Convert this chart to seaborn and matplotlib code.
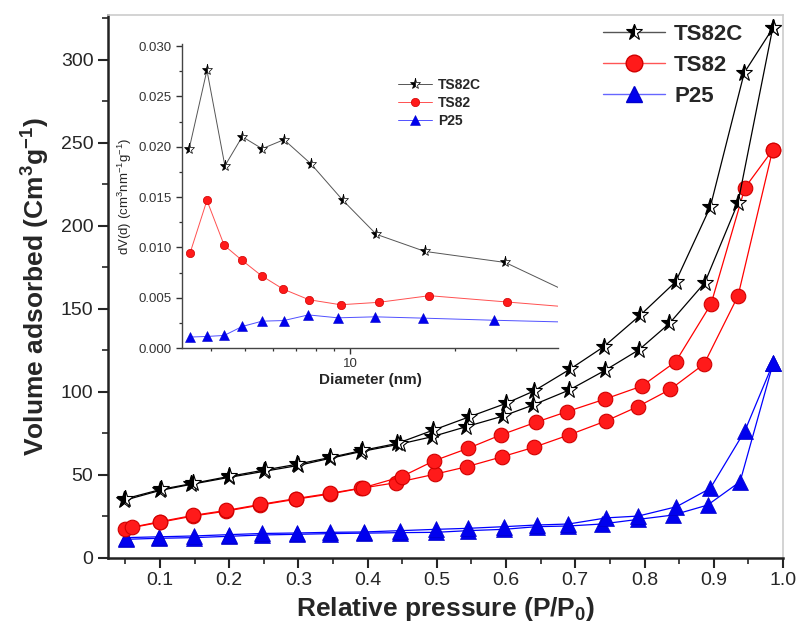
import numpy as np
import pandas as pd
import matplotlib
matplotlib.use("Agg")
import matplotlib.pyplot as plt
from matplotlib.ticker import MultipleLocator, LogLocator, NullFormatter, FixedLocator, FixedFormatter
import seaborn as sns

# isotherme N2 : branches adsorption / desorption
ts82c_p_ads = [0.048, 0.1, 0.145, 0.2, 0.25, 0.3, 0.345, 0.39, 0.447, 0.493, 0.542, 0.596, 0.639, 0.691, 0.743, 0.792, 0.836, 0.887, 0.935, 0.985]
ts82c_v_ads = [34.5, 40.5, 44.2, 48.4, 52.0, 55.6, 59.8, 63.9, 68.5, 72.9, 78.9, 85.4, 92.0, 101.0, 112.9, 125.3, 141.2, 165.7, 213.9, 318.9]
ts82c_p_des = [0.985, 0.944, 0.895, 0.845, 0.794, 0.741, 0.692, 0.64, 0.60, 0.547, 0.495, 0.443, 0.392, 0.346, 0.298, 0.252, 0.2, 0.148, 0.102, 0.05]
ts82c_v_des = [318.9, 292.2, 211.4, 166.3, 146.2, 127.1, 113.5, 100.4, 93.0, 84.9, 76.9, 68.9, 64.6, 60.4, 56.3, 52.9, 49.0, 44.8, 41.2, 35.5]

ts82_p_ads = [0.049, 0.1, 0.148, 0.196, 0.245, 0.296, 0.346, 0.39, 0.441, 0.498, 0.543, 0.594, 0.640, 0.691, 0.745, 0.790, 0.837, 0.886, 0.935, 0.985]
ts82_v_ads = [17.3, 21.3, 25.1, 28.1, 31.7, 35.2, 38.4, 41.8, 45.2, 50.4, 54.8, 60.8, 66.5, 74.0, 82.5, 91.0, 101.4, 116.7, 157.7, 245.6]
ts82_p_des = [0.985, 0.945, 0.896, 0.845, 0.796, 0.743, 0.688, 0.643, 0.592, 0.545, 0.496, 0.449, 0.394, 0.346, 0.296, 0.245, 0.196, 0.148, 0.1, 0.059]
ts82_v_des = [245.6, 222.9, 152.8, 118.1, 103.4, 95.6, 88.0, 81.6, 73.9, 65.9, 58.4, 48.8, 42.2, 38.8, 35.6, 32.1, 28.5, 25.5, 21.7, 18.3]

p25_p_ads = [0.051, 0.099, 0.149, 0.2, 0.248, 0.298, 0.346, 0.395, 0.447, 0.499, 0.545, 0.597, 0.644, 0.69, 0.738, 0.791, 0.841, 0.891, 0.938, 0.986]
p25_v_ads = [11.1, 11.7, 12.1, 12.9, 13.7, 14.1, 14.5, 14.8, 15.1, 15.3, 16.3, 17.1, 18.7, 19.1, 20.3, 23.1, 25.7, 31.7, 45.8, 117.5]
p25_p_des = [0.986, 0.945, 0.895, 0.846, 0.791, 0.745, 0.69, 0.644, 0.597, 0.545, 0.499, 0.447, 0.395, 0.346, 0.298, 0.248, 0.2, 0.149, 0.099, 0.051]
p25_v_des = [117.5, 76.5, 41.8, 30.7, 25.1, 24.0, 20.3, 19.7, 18.7, 17.7, 17.1, 16.3, 15.5, 15.3, 14.9, 14.6, 13.9, 13.1, 12.6, 12.1]

# distribution de taille de pores (BJH)
ts82c_d = [3.46, 3.89, 4.38, 4.91, 5.60, 6.47, 7.73, 9.53, 11.9, 16.4, 27.9, 45]
ts82c_dv = [0.0198, 0.0276, 0.0181, 0.0210, 0.0198, 0.0207, 0.0183, 0.0147, 0.0113, 0.0096, 0.0085, 0.0051]
ts82_d = [3.48, 3.89, 4.36, 4.89, 5.58, 6.43, 7.63, 9.40, 12.1, 16.9, 28.3, 45]
ts82_dv = [0.00944, 0.01467, 0.0102, 0.00875, 0.00718, 0.00586, 0.0048, 0.0043, 0.00454, 0.0052, 0.00457, 0.0040]
p25_d = [3.48, 3.89, 4.36, 4.91, 5.60, 6.46, 7.60, 9.24, 11.8, 16.2, 25.9, 45]
p25_dv = [0.00109, 0.00115, 0.00125, 0.00214, 0.00267, 0.00273, 0.00329, 0.0030, 0.0031, 0.00297, 0.00276, 0.00255]

sns.set_style("ticks")
plt.rcParams['font.family'] = ['Liberation Sans', 'DejaVu Sans']
plt.rcParams['mathtext.fontset'] = 'custom'
plt.rcParams['mathtext.rm'] = 'Liberation Sans'
plt.rcParams['mathtext.it'] = 'Liberation Sans:italic'
plt.rcParams['mathtext.bf'] = 'Liberation Sans:bold'

fig = plt.figure(figsize=(7.98, 6.42), dpi=100)
ax = fig.add_axes([0.1353, 0.1313, 0.8459, 0.8453])

styles = {
    "TS82C": dict(color="black", marker="*", markersize=12.5, markerfacecolor="black",
                  markerfacecoloralt="white", fillstyle="left", markeredgecolor="black",
                  markeredgewidth=0.8),
    "TS82": dict(color="red", marker="o", markersize=10.5, markerfacecolor="#ff1a1a",
                 markeredgecolor="#d00000", markeredgewidth=0.8),
    "P25": dict(color="blue", marker="^", markersize=11.5, markerfacecolor="#0000ee",
                markeredgecolor="#0000cc", markeredgewidth=0.5),
}
branches = {
    "TS82C": [(ts82c_p_ads, ts82c_v_ads), (ts82c_p_des, ts82c_v_des)],
    "TS82": [(ts82_p_ads, ts82_v_ads), (ts82_p_des, ts82_v_des)],
    "P25": [(p25_p_ads, p25_v_ads), (p25_p_des, p25_v_des)],
}
for name in ["P25", "TS82", "TS82C"]:
    for xs, ys in branches[name]:
        sns.lineplot(x=xs, y=ys, ax=ax, sort=False, estimator=None, linewidth=0.9,
                     legend=False, **styles[name])

ax.set_xlim(0.025, 1.0)
ax.set_ylim(0, 327)
ax.xaxis.set_major_locator(MultipleLocator(0.1))
ax.xaxis.set_minor_locator(MultipleLocator(0.05))
ax.yaxis.set_major_locator(MultipleLocator(50))
ax.yaxis.set_minor_locator(MultipleLocator(25))
ax.xaxis.set_major_formatter(matplotlib.ticker.FormatStrFormatter('%.1f'))
ax.tick_params(which='major', length=7, width=1.5, labelsize=14, direction='out')
ax.tick_params(which='minor', length=4, width=1.2, direction='out')
for s in ['left', 'bottom']:
    ax.spines[s].set_linewidth(1.8)
    ax.spines[s].set_color('#222222')
for s in ['top', 'right']:
    ax.spines[s].set_linewidth(1.2)
    ax.spines[s].set_color('#cccccc')
ax.set_xlabel("Relative pressure (P/P$_\\mathbf{0}$)", fontsize=19, fontweight='bold', labelpad=4)
ax.set_ylabel("Volume adsorbed (Cm$^\\mathbf{3}$g$^\\mathbf{-1}$)", fontsize=19, fontweight='bold', labelpad=6)

leg_style = {
    "TS82C": dict(color="#555555", marker="*", markersize=12, markerfacecolor="black",
                  markerfacecoloralt="white", fillstyle="left", markeredgecolor="black", markeredgewidth=0.8),
    "TS82": dict(color="#ff5555", marker="o", markersize=12, markerfacecolor="#ff1a1a",
                 markeredgecolor="#d00000"),
    "P25": dict(color="#6666ff", marker="^", markersize=12, markerfacecolor="#0000ee",
                markeredgecolor="#0000cc"),
}
handles = [matplotlib.lines.Line2D([], [], linewidth=1.0, **leg_style[n]) for n in ["TS82C", "TS82", "P25"]]
fig.legend(handles, ["TS82C", "TS82", "P25"], loc='upper left', bbox_to_anchor=(603 / 798, 1 - 24 / 642),
           frameon=False, borderpad=0, borderaxespad=0, handlelength=2.8, handletextpad=0.4,
           labelspacing=0.45, prop={'weight': 'bold', 'size': 16})

# encart : distribution de pores
ins = fig.add_axes([0.2281, 0.4579, 0.4711, 0.4735], facecolor='none')
ins_styles = {
    "TS82C": dict(color="#555555", marker="*", markersize=8, markerfacecolor="black",
                  markerfacecoloralt="white", fillstyle="left", markeredgecolor="black", markeredgewidth=0.5),
    "TS82": dict(color="#ff5050", marker="o", markersize=6, markerfacecolor="#ff1a1a",
                 markeredgecolor="#d00000", markeredgewidth=0.5),
    "P25": dict(color="#5050ff", marker="^", markersize=6.5, markerfacecolor="#0000ee",
                markeredgecolor="#0000cc", markeredgewidth=0.4),
}
ins_data = {"TS82C": (ts82c_d, ts82c_dv), "TS82": (ts82_d, ts82_dv), "P25": (p25_d, p25_dv)}
for name in ["TS82C", "TS82", "P25"]:
    xs, ys = ins_data[name]
    sns.lineplot(x=xs, y=ys, ax=ins, sort=False, estimator=None, linewidth=0.7,
                 label=name, **ins_styles[name])
ins.set_xscale('log')
ins.set_xlim(3.3, 39.5)
ins.set_ylim(0, 0.0302)
ins.xaxis.set_major_locator(FixedLocator([10]))
ins.xaxis.set_major_formatter(FixedFormatter(["10"]))
ins.xaxis.set_minor_locator(FixedLocator([4, 5, 6, 7, 8, 9, 20, 30]))
ins.xaxis.set_minor_formatter(NullFormatter())
ins.yaxis.set_major_locator(MultipleLocator(0.005))
ins.yaxis.set_minor_locator(MultipleLocator(0.0025))
ins.yaxis.set_major_formatter(matplotlib.ticker.FormatStrFormatter('%.3f'))
ins.tick_params(which='major', length=4, width=1.0, labelsize=9.5, colors='#333333')
ins.tick_params(which='minor', length=2.5, width=0.9, colors='#333333')
sns.despine(ax=ins)
for s in ['left', 'bottom']:
    ins.spines[s].set_linewidth(1.0)
    ins.spines[s].set_color('#444444')
ins.set_xlabel("Diameter (nm)", fontsize=11, fontweight='bold', labelpad=2)
ins.set_ylabel("dV(d) (cm$^3$nm$^{-1}$g$^{-1}$)", fontsize=9.5, labelpad=3)
ins.legend(loc='upper left', bbox_to_anchor=(398 / 798, 1 - 78 / 642), bbox_transform=fig.transFigure,
           frameon=False, borderpad=0, borderaxespad=0, handlelength=2.45, handletextpad=0.45,
           labelspacing=0.3, prop={'weight': 'bold', 'size': 10})

fig.savefig("out.png", dpi=100)
